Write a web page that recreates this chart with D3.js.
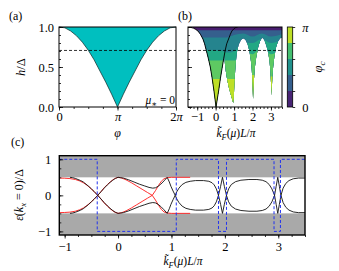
<!DOCTYPE html>
<html><head><meta charset="utf-8">
<script src="https://cdn.jsdelivr.net/npm/d3@7"></script>
<style>
body{margin:0;background:#fff}
svg, svg text{font-family:"Liberation Serif","DejaVu Serif",serif}
</style></head><body><div id="chart"></div>
<script>
// ---- panel (a): h/Delta vs phi (phi in units of pi)
const phiA = [0,0.1,0.2,0.3,0.4,0.5,0.6,0.7,0.8,0.9,1.0,1.1,1.2,1.3,1.4,1.5,1.6,1.7,1.8,1.9,2.0];
const hA   = [1.0,0.99,0.95,0.89,0.81,0.71,0.59,0.45,0.31,0.16,0.0,0.16,0.31,0.45,0.59,0.71,0.81,0.89,0.95,0.99,1.0];
const hDash = 0.707;

// ---- panel (b): envelope curve and phi_c contour regions
const kEnv = [-1.5,-1.35,-1.2,-1.08,-0.96,-0.83,-0.69,-0.6,-0.51,-0.4,-0.29,-0.19,-0.09,0.02,0.09,0.16,0.26,0.36,0.44,0.52,0.6,0.7,0.8,0.88,1.0,1.1,1.2];
const hEnv = [1.0,0.995,0.985,0.97,0.95,0.91,0.85,0.79,0.71,0.61,0.5,0.36,0.2,0.0,0.1,0.2,0.36,0.5,0.61,0.71,0.79,0.85,0.91,0.95,0.98,0.995,1.0];
// outer edge of the coloured region (k, h)
const regionEdge = [[-1.3,1.0],[-1.2,0.985],[-1.08,0.97],[-0.96,0.95],[-0.83,0.91],[-0.69,0.85],[-0.6,0.79],[-0.51,0.71],[-0.4,0.61],
  [-0.29,0.5],[-0.19,0.36],[-0.09,0.2],[0.02,0.0],[0.09,0.1],[0.16,0.2],[0.26,0.36],[0.36,0.5],[0.44,0.61],[0.47,0.65],
  [0.5,0.55],[0.55,0.45],[0.62,0.35],[0.7,0.26],[0.8,0.17],[0.88,0.11],[0.95,0.05],
  [0.98,0.1],[1.0,0.2],[1.02,0.3],[1.05,0.42],[1.09,0.55],[1.15,0.68],[1.25,0.78],[1.38,0.84],[1.5,0.86],[1.62,0.84],[1.74,0.78],[1.83,0.7],[1.9,0.6],[1.95,0.5],[1.99,0.35],[2.01,0.22],[2.03,0.1],
  [2.05,0.22],[2.08,0.35],[2.13,0.5],[2.2,0.62],[2.3,0.74],[2.4,0.82],[2.52,0.87],[2.64,0.84],[2.75,0.77],[2.85,0.68],[2.92,0.58],[2.97,0.45],[3.0,0.32],[3.02,0.22],[3.03,0.14],
  [3.05,0.25],[3.08,0.38],[3.12,0.5],[3.18,0.62],[3.27,0.74],[3.38,0.82],[3.5,0.86],[3.6,0.87],[3.6,1.0]];
// upper limits of the higher phi_c bands (k, h)
const bound1 = [[-1.6,0.96],[3.7,0.96]];
const bound2 = [[-1.6,0.87],[0.6,0.87],[1.0,0.9],[1.5,0.92],[2.0,0.88],[2.5,0.92],[3.0,0.88],[3.7,0.92]];
const bound3 = [[-1.6,0.72],[0.3,0.7],[0.7,0.68],[1.0,0.7],[1.5,0.8],[2.0,0.8],[2.5,0.85],[3.0,0.8],[3.7,0.85]];
const bound4 = [[-1.6,0.58],[1.2,0.58],[1.5,0.7],[2.0,0.66],[2.5,0.75],[3.0,0.66],[3.7,0.75]];
const bound5 = [[-1.6,0.35],[1.2,0.35],[2.0,0.4],[3.0,0.38],[3.7,0.38]];
const bandT = [0.08,0.3,0.45,0.6,0.75,0.9];
const cbEdges = [0,1,2,3,4,5];  // in units of pi/5
const cbLabels = {0:"0",5:"π"};

// ---- panel (c): bound-state energies
const kBlack = [-0.9,-0.85,-0.8,-0.75,-0.7,-0.65,-0.6,-0.55,-0.5,-0.45,-0.38,-0.32,-0.26,-0.2,-0.15,-0.1,-0.05,0,0.05,0.1,0.2,0.3,0.4,0.5,0.58,0.65,0.7,0.75,0.8,0.86,0.92,0.96,0.99,1.03,1.07,1.1,1.14,1.2,1.27,1.35,1.45,1.6,1.7,1.76,1.8,1.84,1.88,1.92,1.955,1.99,2.03,2.07,2.12,2.2,2.3,2.45,2.6,2.7,2.77,2.83,2.88,2.93,2.96,2.99,3.02,3.05,3.09,3.14,3.2,3.28,3.38,3.5];
const eBlack = [-0.5,-0.49,-0.47,-0.44,-0.41,-0.37,-0.31,-0.25,-0.18,-0.11,0,0.1,0.2,0.29,0.36,0.42,0.47,0.5,0.49,0.48,0.43,0.37,0.31,0.26,0.22,0.2,0.21,0.25,0.31,0.4,0.5,0.37,0.25,0.12,0,-0.1,-0.2,-0.3,-0.36,-0.39,-0.41,-0.41,-0.39,-0.35,-0.29,-0.18,0,0.25,0.5,0.25,0,-0.18,-0.3,-0.38,-0.42,-0.44,-0.44,-0.42,-0.38,-0.3,-0.18,0,0.25,0.5,0.25,0,-0.2,-0.33,-0.41,-0.46,-0.48,-0.48];
const kRed = [-1.1,-1.0,-0.9,-0.8,-0.72,-0.65,-0.58,-0.5,-0.44,-0.38,-0.32,-0.26,-0.2,-0.14,-0.07,0,0.07,0.15,0.25,0.35,0.45,0.55,0.64,0.7,0.76,0.81,0.86,0.92,1.0,1.35];
const eRed = [0.48,0.475,0.465,0.44,0.4,0.35,0.28,0.18,0.09,0,-0.1,-0.21,-0.3,-0.38,-0.46,-0.5,-0.48,-0.43,-0.35,-0.26,-0.17,-0.08,0,0.13,0.28,0.39,0.46,0.49,0.5,0.5];
const kStep = [-1.1,-0.39,1.09,1.88,2.03,2.92,3.04,3.5];
const eStep = [1,-1,1,-1,1,-1,1,1];
const gapEdge = 0.5;

const W = 339, H = 271;
const FONT = '"Liberation Serif","DejaVu Serif",serif';
const FS = 12.5;
const svg = d3.select("#chart").append("svg").attr("width", W).attr("height", H)
  .attr("font-family", FONT);
const PI = Math.PI;

function rich(g, x, y, parts, size, anchor, rot) {
  const t = g.append("text").attr("x", x).attr("y", y).attr("font-size", size)
    .attr("font-family", FONT).attr("text-anchor", anchor || "middle");
  if (rot) t.attr("transform", `rotate(${rot},${x},${y})`);
  let shift = 0;
  parts.forEach(p => {
    const st = p[1] || "";
    const s = t.append("tspan").text(p[0]);
    const want = st.includes("s") ? 2.5 : 0;
    if (want !== shift) { s.attr("dy", want - shift); shift = want; }
    if (st.includes("i")) s.attr("font-style", "italic");
    if (want) s.attr("font-size", size * 0.72);
  });
  return t;
}
function styleAxis(g) {
  g.select(".domain").remove();
  g.attr("font-family", FONT).attr("font-size", FS);
  g.selectAll(".tick line").attr("stroke", "#000").attr("stroke-width", 0.8);
  g.selectAll(".tick text").attr("fill", "#000");
  return g;
}
function frame(x, y, w) {
  const [x0, x1] = x.range(), [y0, y1] = y.range();
  svg.append("rect").attr("x", x0).attr("y", y1).attr("width", x1 - x0).attr("height", y0 - y1)
    .attr("fill", "none").attr("stroke", "#000").attr("stroke-width", w || 1);
}

// ================= (a)
const xa = d3.scaleLinear([0, 2 * PI], [59, 176]);
const ya = d3.scaleLinear([0, 1], [107, 27]);
const ptsA = phiA.map((p, i) => [p * PI, hA[i]]);
svg.append("path").datum(ptsA)
  .attr("d", d3.area().x(d => xa(d[0])).y0(ya(1)).y1(d => ya(d[1])))
  .attr("fill", "#00bfbf");
svg.append("path").datum(ptsA)
  .attr("d", d3.line().x(d => xa(d[0])).y(d => ya(d[1])))
  .attr("fill", "none").attr("stroke", "#1a3a3a").attr("stroke-width", 0.8);
svg.append("line").attr("x1", xa(0)).attr("x2", xa(2 * PI)).attr("y1", ya(hDash)).attr("y2", ya(hDash))
  .attr("stroke", "#000").attr("stroke-width", 0.8).attr("stroke-dasharray", "3,2");
frame(xa, ya);
styleAxis(svg.append("g").attr("transform", `translate(0,${ya(0)})`)
  .call(d3.axisBottom(xa).tickValues(d3.range(0, 2 * PI + 0.01, PI / 4)).tickFormat("").tickSize(2)));
const axA = styleAxis(svg.append("g").attr("transform", `translate(0,${ya(0)})`)
  .call(d3.axisBottom(xa).tickValues([0, PI, 2 * PI]).tickSize(3.5).tickPadding(2).tickFormat(d => ["0", "π", "2π"][Math.round(d / PI)])));
axA.selectAll(".tick text").each(function (d) {
  const n = Math.round(d / PI); if (n === 0) return;
  const t = d3.select(this).text("");
  if (n === 2) t.append("tspan").text("2");
  t.append("tspan").attr("font-style", "italic").text("π");
});
styleAxis(svg.append("g").attr("transform", `translate(${xa(0)},0)`)
  .call(d3.axisLeft(ya).tickValues(d3.range(0, 1.01, 0.1)).tickFormat("").tickSize(-2)));
styleAxis(svg.append("g").attr("transform", `translate(${xa(0)},0)`)
  .call(d3.axisLeft(ya).tickValues([0, 0.5, 1]).tickFormat(d3.format(".1f")).tickSize(-4).tickPadding(5)));
svg.append("text").attr("x", 9).attr("y", 20).attr("font-size", 12).text("(a)");
rich(svg, 25, 67, [["h", "i"], ["/Δ"]], 12.5, "middle", -90);
rich(svg, xa(PI), 137, [["φ", "i"]], 12);
rich(svg, 175, 104, [["μ", "i"], ["∗", "s"], [" = 0"]], 11.5, "end");

// ================= (b)
const xb = d3.scaleLinear([-1.5, 3.6], [188, 282]);
const yb = ya;
const defs = svg.append("defs");
defs.append("clipPath").attr("id", "clipB").append("path")
  .attr("d", d3.line().x(d => xb(d[0])).y(d => yb(d[1]))(regionEdge) + "Z");
defs.append("clipPath").attr("id", "boxB").append("rect")
  .attr("x", xb(-1.5)).attr("y", yb(1)).attr("width", xb(3.6) - xb(-1.5)).attr("height", yb(0) - yb(1));
const gB = svg.append("g").attr("clip-path", "url(#boxB)");
const gLev = gB.append("g").attr("clip-path", "url(#clipB)");
const bounds = [[[-1.6, 1.2], [3.7, 1.2]], bound1, bound2, bound3, bound4, bound5];
bounds.forEach((b, i) => {
  gLev.append("path").datum(b)
    .attr("d", d3.area().x(d => xb(d[0])).y0(yb(-0.1)).y1(d => yb(d[1])).curve(d3.curveMonotoneX))
    .attr("fill", d3.interpolateViridis(bandT[i]));
});
gB.append("path").datum(kEnv.map((k, i) => [k, hEnv[i]]))
  .attr("d", d3.line().x(d => xb(d[0])).y(d => yb(d[1])))
  .attr("fill", "none").attr("stroke", "#000").attr("stroke-width", 0.9);
gB.append("line").attr("x1", xb(-1.5)).attr("x2", xb(3.6)).attr("y1", yb(hDash)).attr("y2", yb(hDash))
  .attr("stroke", "#000").attr("stroke-width", 0.8).attr("stroke-dasharray", "3,2");
frame(xb, yb);
styleAxis(svg.append("g").attr("transform", `translate(0,${yb(0)})`)
  .call(d3.axisBottom(xb).tickValues(d3.range(-1.4, 3.61, 0.2)).tickFormat("").tickSize(2)));
styleAxis(svg.append("g").attr("transform", `translate(0,${yb(0)})`)
  .call(d3.axisBottom(xb).tickValues([-1, 0, 1, 2, 3]).tickFormat(d3.format("d")).tickSize(3.5).tickPadding(2)));
styleAxis(svg.append("g").attr("transform", `translate(${xb(-1.5)},0)`)
  .call(d3.axisLeft(yb).tickValues(d3.range(0, 1.01, 0.1)).tickFormat("").tickSize(-2)));
styleAxis(svg.append("g").attr("transform", `translate(${xb(-1.5)},0)`)
  .call(d3.axisLeft(yb).tickValues([0, 0.5, 1]).tickFormat("").tickSize(-4)));
svg.append("text").attr("x", 178).attr("y", 20).attr("font-size", 12).text("(b)");
rich(svg, 236, 137, [["k̃", "i"], ["F", "si"], ["("], ["μ", "i"], [")"], ["L", "i"], ["/"], ["π", "i"]], 11.5);

// colour bar
const xcb = d3.scaleLinear([0, 1], [287.3, 292.7]);
const ycb = d3.scaleLinear([0, 5], [107, 27]);
svg.append("g").selectAll("rect").data(cbEdges.slice(0, 5)).join("rect")
  .attr("x", xcb(0)).attr("width", xcb(1) - xcb(0))
  .attr("y", d => ycb(d + 1)).attr("height", d => ycb(d) - ycb(d + 1))
  .attr("fill", d => d3.interpolateViridis((d + 0.5) / 5));
frame(xcb, ycb, 0.8);
const axCb = styleAxis(svg.append("g").attr("transform", `translate(${xcb(1)},0)`)
  .call(d3.axisRight(ycb).tickValues(cbEdges).tickSize(2.5).tickPadding(7).tickFormat(d => cbLabels[d] || "")));
axCb.selectAll(".tick text").attr("font-style", d => d === 5 ? "italic" : null);
rich(svg, 322, 67, [["φ", "i"], ["c", "si"]], 12.5, "middle", -90);

// ================= (c)
const xc = d3.scaleLinear([-1.1, 3.5], [59.3, 305]);
const yc = d3.scaleLinear([-1.1, 1.1], [235, 155.7]);
const gC = svg.append("g");
[[gapEdge, 1.1], [-1.1, -gapEdge]].forEach(r => {
  gC.append("rect").attr("x", xc(-1.1)).attr("width", xc(3.5) - xc(-1.1))
    .attr("y", yc(r[1])).attr("height", yc(r[0]) - yc(r[1])).attr("fill", "#a9a9a9");
});
const lineC = d3.line().x(d => xc(d[0])).y(d => yc(d[1]));
[1, -1].forEach(s => {
  gC.append("path").datum(kRed.map((k, i) => [k, s * eRed[i]])).attr("d", lineC)
    .attr("fill", "none").attr("stroke", "#ff1a1a").attr("stroke-width", 0.9);
});
[1, -1].forEach(s => {
  gC.append("path").datum(kBlack.map((k, i) => [k, s * eBlack[i]])).attr("d", lineC)
    .attr("fill", "none").attr("stroke", "#111").attr("stroke-width", 0.9);
});
gC.append("path").datum(kStep.map((k, i) => [k, eStep[i]]))
  .attr("d", d3.line().x(d => xc(d[0])).y(d => yc(d[1])).curve(d3.curveStepAfter))
  .attr("fill", "none").attr("stroke", "#2233ee").attr("stroke-width", 1).attr("stroke-dasharray", "3,2");
frame(xc, yc, 1.4);
styleAxis(svg.append("g").attr("transform", `translate(0,${yc(-1.1)})`)
  .call(d3.axisBottom(xc).tickValues(d3.range(-1, 3.51, 0.25)).tickFormat("").tickSize(2)));
styleAxis(svg.append("g").attr("transform", `translate(0,${yc(-1.1)})`)
  .call(d3.axisBottom(xc).tickValues([-1, 0, 1, 2, 3]).tickFormat(d3.format("d")).tickSize(3.5).tickPadding(4)));
styleAxis(svg.append("g").attr("transform", `translate(${xc(-1.1)},0)`)
  .call(d3.axisLeft(yc).tickValues(d3.range(-1, 1.01, 0.25)).tickFormat("").tickSize(-2)));
styleAxis(svg.append("g").attr("transform", `translate(${xc(-1.1)},0)`)
  .call(d3.axisLeft(yc).tickValues([-1, 0, 1]).tickFormat(d3.format("d")).tickSize(-4).tickPadding(8)));
svg.append("text").attr("x", 11).attr("y", 146).attr("font-size", 12).text("(c)");
rich(svg, 23, 195, [["ε", "i"], ["("], ["k", "i"], ["x", "si"], [" = 0)/Δ"]], 12, "middle", -90);
rich(svg, 183, 265, [["k̃", "i"], ["F", "si"], ["("], ["μ", "i"], [")"], ["L", "i"], ["/"], ["π", "i"]], 11.5);
</script></body></html>
